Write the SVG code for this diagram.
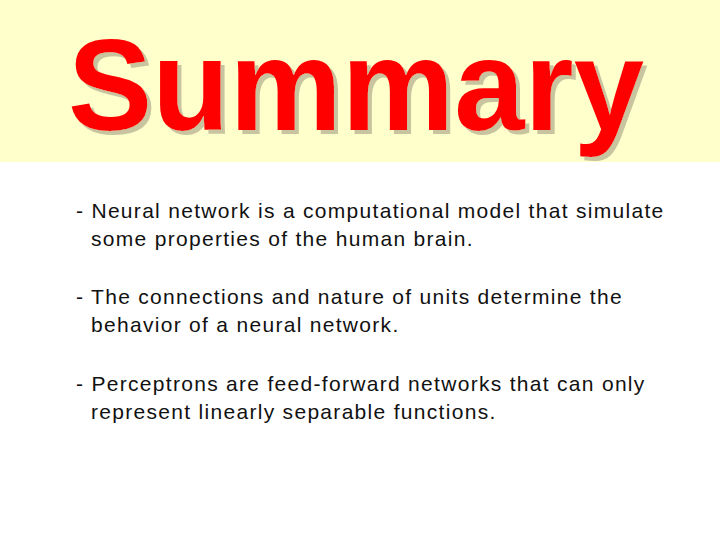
<svg xmlns="http://www.w3.org/2000/svg" width="720" height="540" viewBox="0 0 720 540">
<style>
.t{font-family:"Liberation Sans",Arial,sans-serif;font-weight:bold;font-size:130px}
.b{font-family:"Liberation Sans",Arial,sans-serif;font-size:21px;letter-spacing:1.3px;fill:#111}
</style>
<defs>
<filter id="sh" x="-5%" y="-5%" width="115%" height="120%">
<feFlood flood-color="#c8c4a0"/>
<feComposite in2="SourceAlpha" operator="in"/>
<feOffset dx="4" dy="4" result="s"/>
<feMerge><feMergeNode in="s"/><feMergeNode in="SourceGraphic"/></feMerge>
</filter>
</defs>
<rect width="720" height="540" fill="#fff"/>
<rect width="720" height="162" fill="#ffffcc"/>
<text class="t" x="68" y="130" fill="#ff0000" filter="url(#sh)" textLength="576" lengthAdjust="spacingAndGlyphs">Summary</text>
<text class="b" x="76" y="218">- Neural network is a computational model that simulate</text>
<text class="b" x="91" y="246">some properties of  the human brain.</text>
<text class="b" x="76" y="304">- The connections and nature of units determine the</text>
<text class="b" x="91" y="332">behavior of a neural network.</text>
<text class="b" x="76" y="391">- Perceptrons are feed-forward networks that can only</text>
<text class="b" x="91" y="419">represent linearly separable functions.</text>
</svg>
